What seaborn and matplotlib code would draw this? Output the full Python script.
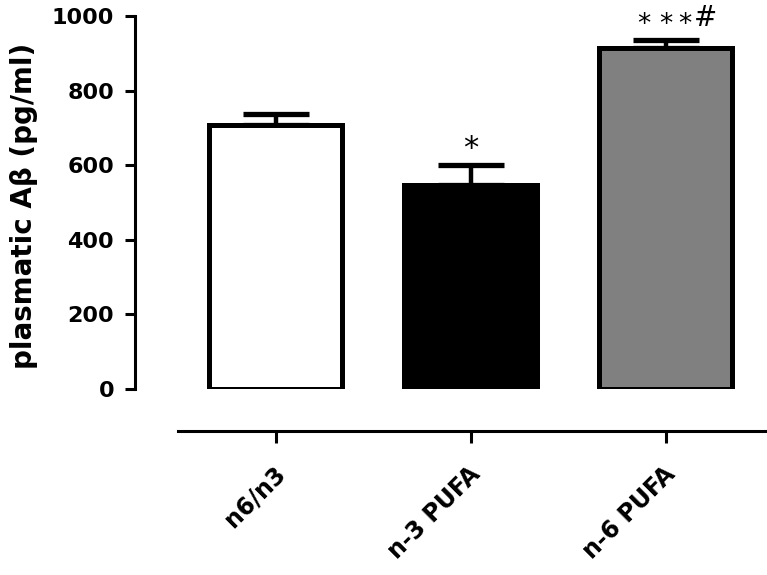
import matplotlib
matplotlib.use("Agg")
import matplotlib.pyplot as plt
import matplotlib.transforms as mtransforms
import seaborn as sns
import pandas as pd

groups = ["n6/n3", "n-3 PUFA", "n-6 PUFA"]
means = [708, 548, 913]
sems = [28, 52, 22]
bar_colors = ["#ffffff", "#000000", "#808080"]
annotations = ["", "*", "***#"]
yticks = [0, 200, 400, 600, 800, 1000]

sns.set_theme(style="white")
plt.rcParams["font.family"] = ["DejaVu Sans"]

df = pd.DataFrame({"group": groups, "value": means})

fig = plt.figure(figsize=(7.67, 5.75), dpi=100)
ax = fig.add_axes([178 / 767, 1 - 389 / 575, (767 - 178) / 767, (389 - 16) / 575])

sns.barplot(data=df, x="group", y="value", hue="group", palette=bar_colors,
            legend=False, width=0.68, edgecolor="black", linewidth=3.6,
            errorbar=None, ax=ax, saturation=1)

xs = list(range(len(groups)))
ax.errorbar(xs, means, yerr=[[0] * len(sems), sems], fmt="none",
            ecolor="black", elinewidth=3.2, capsize=24, capthick=3.8, zorder=1)
for bar in ax.patches:
    bar.set_zorder(2)

for s in ["top", "right"]:
    ax.spines[s].set_visible(False)
ax.spines["left"].set_position(("outward", 31))
ax.spines["bottom"].set_position(("outward", 30))
for s in ["left", "bottom"]:
    ax.spines[s].set_linewidth(2.2)
    ax.spines[s].set_color("black")

ax.tick_params(axis="y", length=7, width=2.2, pad=8, colors="black", left=True, labelsize=16)
ax.tick_params(axis="x", length=8.5, width=2.2, pad=20, colors="black", bottom=True, labelsize=17)

ax.set_xlim(-0.5, 2.52)
ax.set_ylim(0, 1000)
ax.set_yticks(yticks)
ax.set_yticklabels([str(t) for t in yticks])
ax.set_xticks(xs)
ax.set_xticklabels(groups)
for lab in ax.get_yticklabels():
    lab.set_fontweight("bold")
shift = mtransforms.ScaledTranslation(6 / 100, 0, fig.dpi_scale_trans)
for lab in ax.get_xticklabels():
    lab.set_fontweight("bold")
    lab.set_rotation(45)
    lab.set_ha("right")
    lab.set_va("center")
    lab.set_rotation_mode("anchor")
    lab.set_transform(lab.get_transform() + shift)

ax.set_ylabel("plasmatic Aβ (pg/ml)", fontsize=20, fontweight="bold", color="black")
ax.yaxis.set_label_coords(-0.238, 0.49)
ax.set_xlabel("")

for x, m, e, a in zip(xs, means, sems, annotations):
    if a == "*":
        ax.text(x, m + e + 45, "*", ha="center", va="center", fontsize=22,
                color="black", clip_on=False)
    elif a:
        for dx in (-0.11, 0.0, 0.10):
            ax.text(x + dx, m + e + 40, "*", ha="center", va="center", fontsize=19,
                    color="black", clip_on=False)
        ax.text(x + 0.145, m + e + 60, "#", ha="left", va="center", fontsize=20,
                color="black", clip_on=False)

ax.grid(False)
fig.savefig("out.png", dpi=100)
